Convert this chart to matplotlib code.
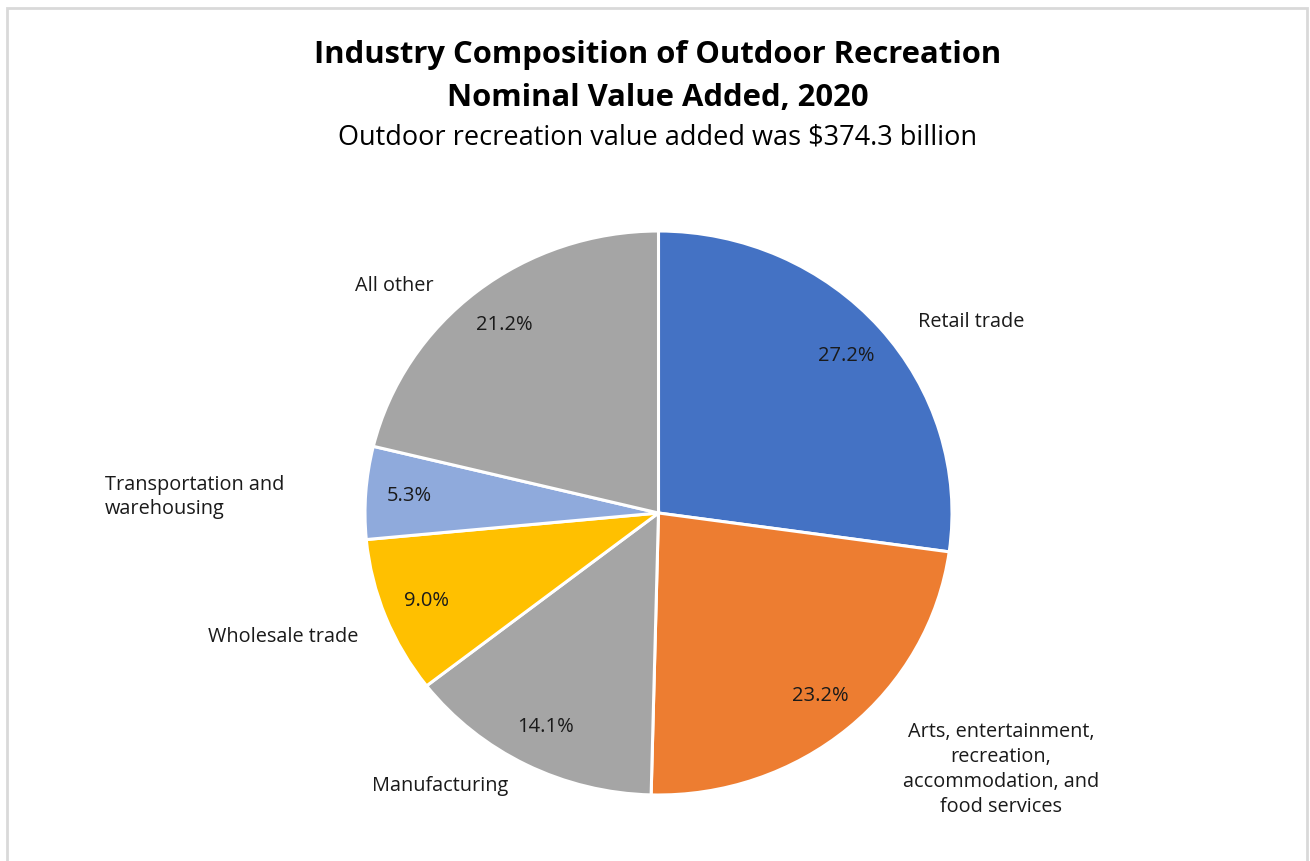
import matplotlib
matplotlib.use("Agg")
import matplotlib.pyplot as plt
import numpy as np

# ---- data ----
categories = ["Retail trade",
              "Arts, entertainment,\nrecreation,\naccommodation, and\nfood services",
              "Manufacturing",
              "Wholesale trade",
              "Transportation and\nwarehousing",
              "All other"]
shares = [27.2, 23.2, 14.1, 9.0, 5.3, 21.2]
colors = ["#4472C4", "#ED7D31", "#A5A5A5", "#FFC000", "#8FAADC", "#A5A5A5"]
title_line1 = "Industry Composition of Outdoor Recreation"
title_line2 = "Nominal Value Added, 2020"
subtitle = "Outdoor recreation value added was $374.3 billion"

# ---- layout (label anchors in pie radius units) ----
label_pos = [(1.065, 0.677), (1.167, -0.91), (-0.745, -0.968),
             (-1.279, -0.44), (-1.56, 0.057), (-0.901, 0.805)]
label_ha = ["center", "center", "center", "center", "left", "center"]

W, H = 1310, 861
fig = plt.figure(figsize=(W / 100, H / 100), dpi=100)
plt.rcParams['font.family'] = ['Open Sans', 'DejaVu Sans']

# border (bottom edge lies outside the image)
fig.patches.append(plt.Rectangle((7 / W, -0.05), (1307 - 7) / W, (H - 8) / H + 0.05,
                                 transform=fig.transFigure, fill=False,
                                 edgecolor="#D9D9D9", linewidth=2))

cx, cy, rx, ry = 658.5, 513, 293.5, 282
ax = fig.add_axes([(cx - rx) / W, (H - cy - ry) / H, 2 * rx / W, 2 * ry / H])
ax.pie(shares, colors=colors, startangle=90, counterclock=False,
       wedgeprops=dict(edgecolor="white", linewidth=2.2), radius=1.0)
ax.set_aspect('auto')
ax.set_xlim(-1, 1)
ax.set_ylim(-1, 1)

# percentage labels
start = 90.0
for v in shares:
    mid = np.deg2rad(start - v * 3.6 / 2)
    start -= v * 3.6
    ax.text(0.85 * np.cos(mid), 0.85 * np.sin(mid), f"{v:.1f}%",
            ha="center", va="center", fontsize=14.5, color="#1a1a1a")

for cat, (x, y), ha in zip(categories, label_pos, label_ha):
    if ha == "left":
        x = x - 0.325
    ax.text(x, y, cat, ha=ha, va="center", fontsize=14.3, color="#1a1a1a",
            multialignment=ha, linespacing=1.32, clip_on=False)

fig.text(658 / W, 1 - 55 / H, title_line1, ha="center", va="center",
         fontsize=22.3, fontweight="bold", color="black")
fig.text(658 / W, 1 - 98 / H, title_line2, ha="center", va="center",
         fontsize=22.3, fontweight="bold", color="black")
fig.text(658 / W, 1 - 137 / H, subtitle, ha="center", va="center",
         fontsize=19.5, color="black")

fig.savefig("out.png", dpi=100)
